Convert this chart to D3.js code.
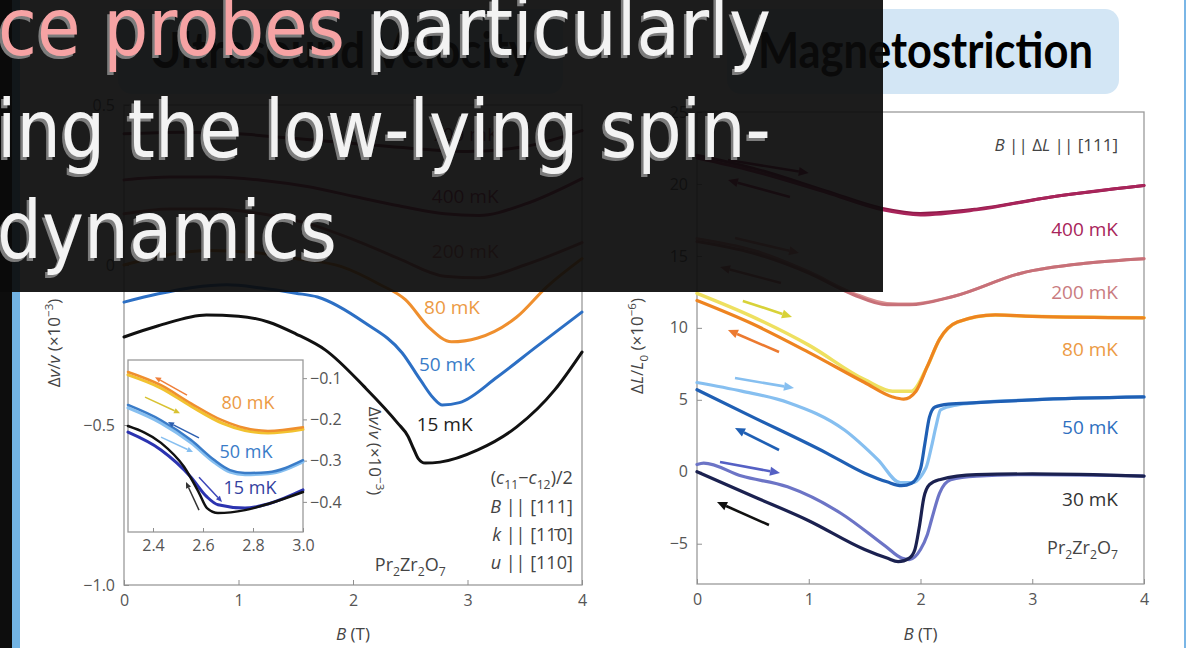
<!DOCTYPE html>
<html>
<head>
<meta charset="utf-8">
<script src="https://cdn.jsdelivr.net/npm/d3@7"></script>
<style>
  html, body { margin: 0; padding: 0; background: #fff; }
  svg { display: block; }
</style>
</head>
<body>
<svg id="slide" width="1190" height="648"></svg>
<script>
// ---------- Ultrasound velocity, Δv/v (×10⁻³) vs B (T) ----------
const bTicks = [0, 1, 2, 3, 4];
const bTickLabels = ["0", "1", "2", "3", "4"];
const dvTicks = [-1.0, -0.5, 0, 0.5];
const dvTickLabels = ["\u22121.0", "\u22120.5", "0", "0.5"];

const dv700 = [[0,0.41],[0.5,0.415],[1.0,0.41],[1.5,0.395],[2.0,0.38],[2.5,0.365],[3.0,0.355],[3.5,0.37],[4.0,0.42]];
const dv400 = [[0,0.266],[0.4,0.275],[0.8,0.275],[1.2,0.265],[1.6,0.245],[2.0,0.215],[2.4,0.185],[2.8,0.16],[3.1,0.155],[3.5,0.19],[4.0,0.27]];
const dv200 = [[0,0.16],[0.4,0.175],[0.8,0.175],[1.2,0.16],[1.6,0.13],[2.0,0.08],[2.4,0.02],[2.8,-0.035],[3.1,-0.04],[3.5,0.0],[4.0,0.07]];
const dv80  = [[0,0.0],[0.35,0.03],[0.75,0.045],[1.1,0.04],[1.5,0.02],[1.9,-0.005],[2.23,-0.06],[2.46,-0.109],[2.66,-0.194],[2.86,-0.24],[3.09,-0.228],[3.43,-0.1625],[3.69,-0.069],[4.0,0.02]];
const dv50  = [[0,-0.116],[0.3,-0.09],[0.6,-0.07],[0.9,-0.062],[1.2,-0.072],[1.5,-0.088],[1.69,-0.10],[2.1,-0.18],[2.43,-0.275],[2.59,-0.36],[2.7,-0.415],[2.78,-0.4375],[2.93,-0.43],[3.26,-0.35],[3.6,-0.256],[4.0,-0.147]];
const dv15  = [[0,-0.225],[0.3,-0.19],[0.72,-0.156],[1.0,-0.16],[1.26,-0.178],[1.5,-0.215],[1.76,-0.266],[2.1,-0.381],[2.39,-0.494],[2.48,-0.535],[2.53,-0.575],[2.57,-0.605],[2.63,-0.619],[2.76,-0.616],[3.09,-0.578],[3.43,-0.506],[3.76,-0.391],[4.0,-0.272]];

// inset: zoom on the minimum, 2.3–3.0 T
const insetBTicks = [2.4, 2.6, 2.8, 3.0];
const insetBTickLabels = ["2.4", "2.6", "2.8", "3.0"];
const insetDvTicks = [-0.1, -0.2, -0.3, -0.4];
const insetDvTickLabels = ["\u22120.1", "\u22120.2", "\u22120.3", "\u22120.4"];

const in80up   = [[2.3,-0.092],[2.432,-0.124],[2.552,-0.168],[2.676,-0.209],[2.768,-0.227],[2.86,-0.233],[3.0,-0.224]];
const in80down = [[2.3,-0.085],[2.432,-0.117],[2.552,-0.161],[2.676,-0.202],[2.768,-0.221],[2.86,-0.228],[3.0,-0.219]];
const in50up   = [[2.3,-0.172],[2.432,-0.209],[2.552,-0.257],[2.644,-0.304],[2.708,-0.328],[2.768,-0.334],[2.86,-0.332],[3.0,-0.303]];
const in50down = [[2.3,-0.165],[2.432,-0.202],[2.552,-0.25],[2.644,-0.298],[2.708,-0.323],[2.768,-0.33],[2.86,-0.328],[3.0,-0.299]];
const in15up   = [[2.3,-0.231],[2.432,-0.274],[2.552,-0.34],[2.616,-0.388],[2.66,-0.407],[2.768,-0.415],[2.86,-0.405],[3.0,-0.371]];
const in15down = [[2.3,-0.216],[2.432,-0.257],[2.524,-0.315],[2.584,-0.378],[2.616,-0.415],[2.66,-0.427],[2.768,-0.42],[2.86,-0.405],[3.0,-0.376]];

// ---------- Magnetostriction, ΔL/L₀ (×10⁻⁶) vs B (T) ----------
const dlTicks = [-5, 0, 5, 10, 15, 20, 25];
const dlTickLabels = ["\u22125", "0", "5", "10", "15", "20", "25"];

const dl400up   = [[0,22.0],[0.5,21.1],[1.16,19.5],[1.66,18.3],[2.0,17.95],[2.5,18.25],[3.17,19.1],[4.0,19.9]];
const dl400down = [[0,21.8],[0.5,20.9],[1.16,19.4],[1.66,18.2],[2.0,17.85],[2.5,18.2],[3.17,19.1],[4.0,19.9]];
const dl200up   = [[0,16.2],[0.5,15.4],[1.0,13.9],[1.4,12.4],[1.7,11.7],[1.9,11.65],[2.3,12.2],[2.9,13.8],[3.5,14.5],[4.0,14.8]];
const dl200down = [[0,16.0],[0.5,15.2],[1.0,13.8],[1.4,12.3],[1.7,11.6],[1.9,11.6],[2.3,12.2],[2.9,13.8],[3.5,14.5],[4.0,14.8]];
const dl80up    = [[0,12.4],[0.49,10.8],[1.0,8.8],[1.5,6.4],[1.75,5.6],[1.92,5.6],[2.06,7.3],[2.17,9.2],[2.33,10.4],[2.67,10.9],[3.0,10.8],[4.0,10.7]];
const dl80down  = [[0,11.9],[0.49,10.3],[1.0,8.3],[1.5,6.2],[1.75,5.2],[1.85,5.05],[1.96,5.6],[2.06,7.3],[2.17,9.2],[2.33,10.4],[2.67,10.9],[3.0,10.8],[4.0,10.7]];
const dl50up    = [[0,6.2],[0.4,5.6],[0.82,4.8],[1.32,2.9],[1.62,0.83],[1.82,-0.76],[1.92,-0.76],[2.05,0.3],[2.1,1.8],[2.14,3.2],[2.18,4.3],[2.33,4.65],[2.5,4.8],[3.0,5.0],[4.0,5.2]];
const dl50down  = [[0,5.7],[0.5,3.8],[1.16,1.3],[1.5,-0.1],[1.7,-0.7],[1.83,-0.97],[1.92,-0.8],[2.0,0.2],[2.04,2.0],[2.08,3.8],[2.13,4.5],[2.25,4.7],[2.5,4.8],[3.0,5.0],[4.0,5.2]];
const dl30up    = [[0,0.5],[0.06,0.6],[0.4,-0.3],[0.81,-1.05],[1.29,-2.9],[1.69,-5.2],[1.83,-6.0],[1.9,-6.1],[2.0,-5.4],[2.06,-4.4],[2.10,-3.3],[2.17,-1.5],[2.27,-0.55],[2.5,-0.3],[3.0,-0.2],[4.0,-0.3]];
const dl30down  = [[0,0],[0.5,-1.7],[1.0,-3.4],[1.5,-5.4],[1.7,-6.0],[1.8,-6.25],[1.9,-6.0],[1.95,-5.4],[1.99,-3.8],[2.03,-1.8],[2.08,-0.9],[2.17,-0.55],[2.5,-0.2],[3.0,-0.15],[4.0,-0.3]];

// ---------- slide styling ----------
const FONT = "'Open Sans', 'Noto Sans', sans-serif";
const TICK = "#555";
const svg = d3.select("#slide");

const xL = d3.scaleLinear().domain([0, 4]).range([124, 582]);
const yL = d3.scaleLinear().domain([-1, 0.5]).range([585, 105]);
const xI = d3.scaleLinear().domain([2.3, 3.0]).range([128, 303]);
const yI = d3.scaleLinear().domain([-0.473, -0.056]).range([532, 360]);
const xR = d3.scaleLinear().domain([0, 4]).range([697, 1144]);
const yR = d3.scaleLinear().domain([-7.8, 25]).range([584, 112]);

// slide frame decorations
svg.append("rect").attr("x", 0).attr("y", 0).attr("width", 12).attr("height", 648).attr("fill", "#0d0d0d");
svg.append("rect").attr("x", 12).attr("y", 0).attr("width", 8).attr("height", 648).attr("fill", "#72b3e3");
svg.append("rect").attr("x", 1184).attr("y", 0).attr("width", 2).attr("height", 648).attr("fill", "#7ab6e6");

// panel titles
function titleBox(x0, x1, label, tx, tw) {
  svg.append("rect").attr("x", x0).attr("y", 9).attr("width", x1 - x0).attr("height", 85)
    .attr("rx", 14).attr("fill", "#d3e6f5");
  const g = svg.append("g");
  const t = g.append("text").text(label)
    .style("font-family", "Lato, 'Open Sans', sans-serif").style("font-weight", 700)
    .style("font-size", "50px").attr("fill", "#000");
  const w = t.node().getComputedTextLength();
  g.attr("transform", `translate(${tx},68) scale(${tw / w},1)`);
}
titleBox(118, 563, "Ultrasound Velocity", 149, 383);
titleBox(727, 1119, "Magnetostriction", 758, 335);

// helpers
function styleAxis(g, size) {
  g.select(".domain").remove();
  g.selectAll(".tick line").attr("stroke", "#8f8f8f").attr("stroke-width", 1);
  g.selectAll(".tick text").attr("fill", TICK)
    .style("font-family", FONT).style("font-size", size + "px");
}
function frame(x, y) {
  svg.append("rect")
    .attr("x", x.range()[0]).attr("y", y.range()[1])
    .attr("width", x.range()[1] - x.range()[0]).attr("height", y.range()[0] - y.range()[1])
    .attr("fill", "none").attr("stroke", "#9a9a9a").attr("stroke-width", 1.3);
}
function curve(x, y, data, color, width) {
  svg.append("path").datum(data)
    .attr("d", d3.line().x(d => x(d[0])).y(d => y(d[1])).curve(d3.curveMonotoneX))
    .attr("fill", "none").attr("stroke", color).attr("stroke-width", width)
    .attr("stroke-linejoin", "round").attr("stroke-linecap", "round");
}
function arrow(x, y, a, color, width, head) {
  const x1 = x(a[0]), y1 = y(a[1]), x2 = x(a[2]), y2 = y(a[3]);
  const ang = Math.atan2(y2 - y1, x2 - x1);
  const bx = x2 - head * Math.cos(ang), by = y2 - head * Math.sin(ang);
  svg.append("line").attr("x1", x1).attr("y1", y1).attr("x2", bx).attr("y2", by)
    .attr("stroke", color).attr("stroke-width", width);
  const hw = head * 0.45;
  const pts = [[x2, y2],
    [bx + hw * Math.sin(ang), by - hw * Math.cos(ang)],
    [bx - hw * Math.sin(ang), by + hw * Math.cos(ang)]];
  svg.append("polygon").attr("points", pts.map(p => p.join(",")).join(" ")).attr("fill", color);
}
// text built from runs; a run may be italic, subscript or superscript
function rich(x, y, parts, opts) {
  const t = svg.append("text").attr("x", x).attr("y", y)
    .attr("text-anchor", opts.anchor || "start")
    .style("font-family", FONT).style("font-size", opts.size + "px")
    .attr("fill", opts.color);
  if (opts.rotate) t.attr("transform", `rotate(${opts.rotate},${x},${y})`);
  let shift = 0;
  parts.forEach(p => {
    const s = t.append("tspan").text(p.t);
    const want = p.sub ? 0.3 * opts.size : (p.sup ? -0.42 * opts.size : 0);
    if (want !== shift) { s.attr("dy", want - shift); shift = want; }
    if (p.i) s.style("font-style", "italic");
    if (p.sub || p.sup) s.style("font-size", (opts.size * 0.68) + "px");
  });
  return t;
}
const axisTitleDv = [{t: "\u0394"}, {t: "v", i: 1}, {t: "/"}, {t: "v", i: 1}, {t: " (\u00d710"}, {t: "\u22123", sup: 1}, {t: ")"}];
const formula = [{t: "Pr"}, {t: "2", sub: 1}, {t: "Zr"}, {t: "2", sub: 1}, {t: "O"}, {t: "7", sub: 1}];

// ---------- left panel ----------
frame(xL, yL);
svg.append("g").attr("transform", `translate(0,${yL(-1)})`)
  .call(d3.axisBottom(xL).tickValues(bTicks).tickFormat((d, i) => bTickLabels[i])
    .tickSizeInner(-5).tickSizeOuter(0).tickPadding(10))
  .call(g => styleAxis(g, 16));
svg.append("g").attr("transform", `translate(${xL(0)},0)`)
  .call(d3.axisLeft(yL).tickValues(dvTicks).tickFormat((d, i) => dvTickLabels[i])
    .tickSizeInner(-5).tickSizeOuter(0).tickPadding(9))
  .call(g => styleAxis(g, 16));

curve(xL, yL, dv700, "#7c1d3e", 3);
curve(xL, yL, dv400, "#a8305a", 3);
curve(xL, yL, dv200, "#c96a6a", 3);
curve(xL, yL, dv80, "#ef8f2e", 3);
curve(xL, yL, dv50, "#2c6fc4", 3);
curve(xL, yL, dv15, "#111", 3);

const leftLabels = [
  {b: 2.98, v: 0.3875, t: "700 mK", c: "#7c1d3e"},
  {b: 2.98, v: 0.194, t: "400 mK", c: "#a8305a"},
  {b: 2.98, v: 0.022, t: "200 mK", c: "#c96a6a"},
  {b: 2.865, v: -0.153, t: "80 mK", c: "#ec9a44"},
  {b: 2.82, v: -0.331, t: "50 mK", c: "#3a7cc8"},
  {b: 2.80, v: -0.519, t: "15 mK", c: "#222"}
];
leftLabels.forEach(l => rich(xL(l.b), yL(l.v), [{t: l.t}], {size: 19, color: l.c, anchor: "middle"}));

rich(xL(3.92), yL(-0.684), [{t: "("}, {t: "c", i: 1}, {t: "11", sub: 1}, {t: "\u2212"}, {t: "c", i: 1}, {t: "12", sub: 1}, {t: ")/2"}], {size: 18, color: "#444", anchor: "end"});
rich(xL(3.92), yL(-0.775), [{t: "B", i: 1}, {t: " || [111]"}], {size: 18, color: "#444", anchor: "end"});
rich(xL(3.92), yL(-0.8625), [{t: "k", i: 1}, {t: " || [11\u03040]"}], {size: 18, color: "#444", anchor: "end"});
rich(xL(3.92), yL(-0.95), [{t: "u", i: 1}, {t: " || [110]"}], {size: 18, color: "#444", anchor: "end"});
rich(xL(2.5), yL(-0.956), formula, {size: 18, color: "#444", anchor: "middle"});

rich(xL(2), 640, [{t: "B", i: 1}, {t: " (T)"}], {size: 17, color: "#444", anchor: "middle"});
rich(60, 343, axisTitleDv, {size: 17, color: "#444", anchor: "middle", rotate: -90});

// inset
svg.append("rect").attr("x", xI.range()[0]).attr("y", yI.range()[1])
  .attr("width", xI.range()[1] - xI.range()[0]).attr("height", yI.range()[0] - yI.range()[1])
  .attr("fill", "#fff");
frame(xI, yI);
svg.append("g").attr("transform", `translate(0,${yI.range()[0]})`)
  .call(d3.axisBottom(xI).tickValues(insetBTicks).tickFormat((d, i) => insetBTickLabels[i])
    .tickSizeInner(-4).tickSizeOuter(0).tickPadding(8))
  .call(g => styleAxis(g, 16));
svg.append("g").attr("transform", `translate(${xI.range()[1]},0)`)
  .call(d3.axisRight(yI).tickValues(insetDvTicks).tickFormat((d, i) => insetDvTickLabels[i])
    .tickSizeInner(4).tickSizeOuter(0).tickPadding(3))
  .call(g => styleAxis(g, 16));

curve(xI, yI, in80up, "#f2c230", 3);
curve(xI, yI, in80down, "#ef8f2e", 2.5);
curve(xI, yI, in50up, "#86bff0", 3);
curve(xI, yI, in50down, "#3a7cc8", 2.5);
curve(xI, yI, in15up, "#2b33b0", 3);
curve(xI, yI, in15down, "#111", 2.5);

const insetArrows = [
  {a: [2.536, -0.141, 2.408, -0.0976], c: "#ef7f3a"},
  {a: [2.368, -0.146, 2.508, -0.185], c: "#d8c232"},
  {a: [2.584, -0.245, 2.46, -0.2065], c: "#2c5fb0"},
  {a: [2.432, -0.243, 2.56, -0.279], c: "#86bff0"},
  {a: [2.584, -0.34, 2.676, -0.40], c: "#3b45b8"},
  {a: [2.584, -0.42, 2.532, -0.352], c: "#333"}
];
insetArrows.forEach(d => arrow(xI, yI, d.a, d.c, 1.5, 6));

rich(xI(2.78), yI(-0.175), [{t: "80 mK"}], {size: 18, color: "#ec9a44", anchor: "middle"});
rich(xI(2.772), yI(-0.294), [{t: "50 mK"}], {size: 18, color: "#3a7cc8", anchor: "middle"});
rich(xI(2.788), yI(-0.381), [{t: "15 mK"}], {size: 18, color: "#3341a0", anchor: "middle"});
rich(369, 451, axisTitleDv, {size: 17, color: "#444", anchor: "middle", rotate: 90});

// ---------- right panel ----------
frame(xR, yR);
svg.append("g").attr("transform", `translate(0,${yR(-7.8)})`)
  .call(d3.axisBottom(xR).tickValues(bTicks).tickFormat((d, i) => bTickLabels[i])
    .tickSizeInner(-5).tickSizeOuter(0).tickPadding(10))
  .call(g => styleAxis(g, 16));
svg.append("g").attr("transform", `translate(${xR(0)},0)`)
  .call(d3.axisLeft(yR).tickValues(dlTicks).tickFormat((d, i) => dlTickLabels[i])
    .tickSizeInner(-5).tickSizeOuter(0).tickPadding(9))
  .call(g => styleAxis(g, 16));

curve(xR, yR, dl400up, "#8e1a48", 3);
curve(xR, yR, dl400down, "#a8245a", 3);
curve(xR, yR, dl200up, "#d99090", 3);
curve(xR, yR, dl200down, "#c77078", 3);
curve(xR, yR, dl80up, "#eee060", 3.5);
curve(xR, yR, dl80down, "#ee8420", 3.2);
curve(xR, yR, dl50up, "#86bff0", 3.2);
curve(xR, yR, dl50down, "#1f5fb4", 3.2);
curve(xR, yR, dl30up, "#6c74c6", 3.2);
curve(xR, yR, dl30down, "#1b2150", 3.2);

const rightArrows = [
  {a: [0.277, 21.66, 1.0, 20.76], c: "#8e1a48"},
  {a: [0.832, 19.09, 0.277, 20.27], c: "#a8245a"},
  {a: [0.34, 16.24, 0.913, 15.2], c: "#d99090"},
  {a: [0.752, 13.12, 0.206, 14.23], c: "#c77078"},
  {a: [0.41, 11.87, 0.85, 10.75], c: "#d8d238"},
  {a: [0.734, 8.32, 0.277, 9.85], c: "#ec7a30"},
  {a: [0.34, 6.51, 0.868, 5.82], c: "#86bff0"},
  {a: [0.734, 1.51, 0.34, 3.04], c: "#1f5fb4"},
  {a: [0.206, 0.68, 0.743, -0.09], c: "#5560c4"},
  {a: [0.644, -3.7, 0.179, -2.1], c: "#111"}
];
rightArrows.forEach(d => arrow(xR, yR, d.a, d.c, 2.6, 10));

const rightLabels = [
  {v: 16.38, t: "400 mK", c: "#a8245a"},
  {v: 12.01, t: "200 mK", c: "#c97b80"},
  {v: 8.04, t: "80 mK", c: "#ec9a44"},
  {v: 2.62, t: "50 mK", c: "#2f70c0"},
  {v: -2.38, t: "30 mK", c: "#333"}
];
rightLabels.forEach(l => rich(xR(3.767), yR(l.v), [{t: l.t}], {size: 19, color: l.c, anchor: "end"}));
rich(xR(3.767), yR(22.29), [{t: "B", i: 1}, {t: " || \u0394"}, {t: "L", i: 1}, {t: " || [111]"}], {size: 17, color: "#444", anchor: "end"});
rich(xR(3.767), yR(-5.72), formula, {size: 18, color: "#444", anchor: "end"});
rich(xR(2), 640, [{t: "B", i: 1}, {t: " (T)"}], {size: 17, color: "#444", anchor: "middle"});
rich(643, 346, [{t: "\u0394"}, {t: "L", i: 1}, {t: "/"}, {t: "L", i: 1}, {t: "0", sub: 1}, {t: " (\u00d710"}, {t: "\u22126", sup: 1}, {t: ")"}], {size: 17, color: "#444", anchor: "middle", rotate: -90});

// ---------- caption overlay ----------
svg.append("rect").attr("x", 0).attr("y", 0).attr("width", 883).attr("height", 292)
  .attr("fill", "rgb(11,11,11)").attr("fill-opacity", 0.93);

const captionLines = [
  [{t: "ce probes ", c: "#f6a3a4"}, {t: "particularly", c: "#f3f3f3"}],
  [{t: "ing the low-lying spin-", c: "#f3f3f3"}],
  [{t: "dynamics", c: "#f3f3f3"}]
];
const captionLeft = [-2, -3, -3];
const captionRight = [771, 771, 337];
const captionBase = [55, 157, 258];
const CAP = "'DejaVu Sans', 'Noto Sans', sans-serif";
const CAP_SIZE = 80;

captionLines.forEach((parts, i) => {
  // each line is condensed to span its measured width
  const probe = svg.append("text").style("font-family", CAP).style("font-size", CAP_SIZE + "px")
    .text(parts.map(p => p.t).join(""));
  const sx = (captionRight[i] - captionLeft[i]) / probe.node().getComputedTextLength();
  probe.remove();
  [{dx: -2.5, dy: 3, shadow: true}, {dx: 0, dy: 0, shadow: false}].forEach(layer => {
    const g = svg.append("g")
      .attr("transform", `translate(${captionLeft[i] + layer.dx},${captionBase[i] + layer.dy}) scale(${sx},1)`);
    const t = g.append("text")
      .style("font-family", CAP).style("font-size", CAP_SIZE + "px");
    parts.forEach(p => t.append("tspan").text(p.t).attr("fill", layer.shadow ? "#7c7c7c" : p.c));
  });
});
</script>
</body>
</html>
